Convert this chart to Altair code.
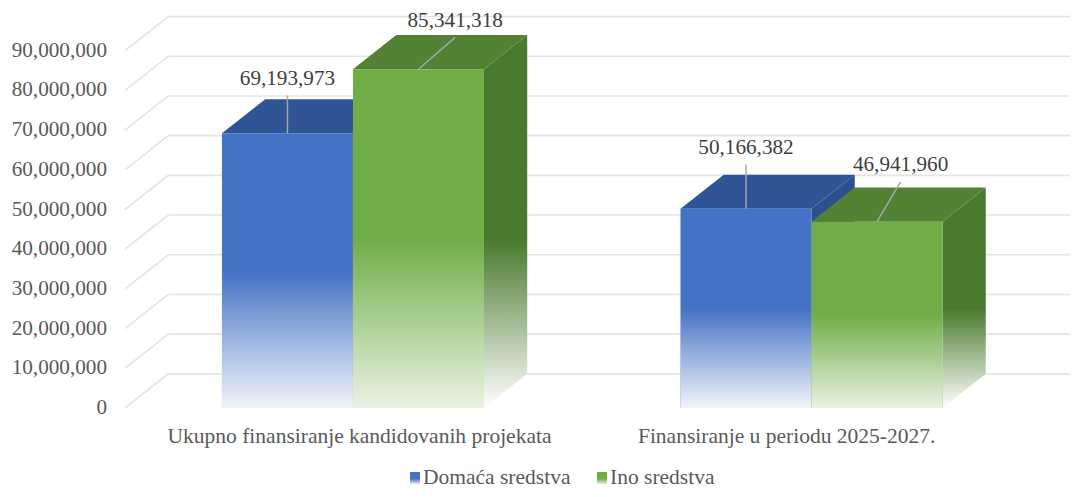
import altair as alt
import pandas as pd

# ---------------- data ----------------
categories = ["Ukupno finansiranje kandidovanih projekata", "Finansiranje u periodu 2025-2027."]
series = ["Domaća sredstva", "Ino sredstva"]
domace = [69193973, 50166382]
ino = [85341318, 46941960]
y_ticks = [0, 10000000, 20000000, 30000000, 40000000, 50000000, 60000000, 70000000, 80000000, 90000000]

# ---------------- layout / style ----------------
W, H = 945, 397
GROUP = 3.5          # slot units per category
BAR = 1.0            # slot units per bar
DX = 0.33            # 3D depth (horizontal, slot units)
DY = 8.6e6           # 3D depth (vertical, value units)
XMIN, XMAX = -0.74, 6.473
YMAX = 100e6
LABEL_DX = [[0.0, 0.28], [0.0, 0.18]]           # value-label shift (slot units)
LABEL_DY = [[13.7e6, 12.2e6], [15.4e6, 14.2e6]]  # value-label lift (value units)
LEADER_GAP = 4.2e6
CAT_LABEL_SHIFT = [0.05, -0.19]
LEGEND_X = [290, 477]   # px of legend swatches
LEGEND_Y = 467
FONT = "Liberation Serif, Times New Roman, serif"
FS = 21.2

front_colors = ["#4472C4", "#70AD47"]
top_colors = ["#2F5597", "#548235"]
side_colors = ["#2C4F8F", "#4A7A2E"]
fade_alpha = [0.93, 0.85]

xs = alt.Scale(domain=[XMIN, XMAX], nice=False, zero=False)
ys = alt.Scale(domain=[0, YMAX], nice=False, zero=False)

# ---------------- derived tables ----------------
values = [domace, ino]
bar_rows, top_rows, side_rows, lab_rows = [], [], [], []
for i, cat in enumerate(categories):
    for j, s in enumerate(series):
        v = values[j][i]
        xl = i * GROUP + j * BAR
        xr = xl + BAR
        bid = f"{i}-{j}"
        bar_rows.append(dict(id=bid, j=j, series=s, val=v, y0=0, xl=xl, xr=xr))
        top_rows += [dict(id=bid, j=j, ty=v, tx1=xl, tx2=xr),
                     dict(id=bid, j=j, ty=v + DY, tx1=xl + DX, tx2=xr + DX)]
        side_rows += [dict(id=bid, j=j, sx=xr, sy1=0, sy2=v),
                      dict(id=bid, j=j, sx=xr + DX, sy1=DY, sy2=v + DY)]
        cx = (xl + xr) / 2
        lu = cx + LABEL_DX[i][j]
        lv = v + LABEL_DY[i][j]
        lab_rows.append(dict(id=bid, val=v, lu=lu, lv=lv, lv2=lv - LEADER_GAP, cx=cx))

bars = pd.DataFrame(bar_rows)
tops = pd.DataFrame(top_rows)
sides = pd.DataFrame(side_rows)
labs = pd.DataFrame(lab_rows)

grid = pd.DataFrame(dict(v=y_ticks))
grid["vb"] = grid["v"] + DY
grid["xa"] = XMIN
grid["xb"] = XMIN + DX
grid["xc"] = XMAX

cats = pd.DataFrame(dict(cat=categories,
                         cu=[i * GROUP + BAR + CAT_LABEL_SHIFT[i] for i in range(len(categories))]))

# ---------------- layers ----------------
grid_color = "#E4E4E4"
slant = alt.Chart(grid).mark_rule(color=grid_color, strokeWidth=1.6).encode(
    x=alt.X("xa:Q", scale=xs, axis=None), x2="xb:Q",
    y=alt.Y("v:Q", scale=ys, axis=None), y2="vb:Q")
back = alt.Chart(grid).mark_rule(color=grid_color, strokeWidth=1.6).encode(
    x=alt.X("xb:Q", scale=xs, axis=None), x2="xc:Q",
    y=alt.Y("vb:Q", scale=ys, axis=None))
ylabels = alt.Chart(grid).mark_text(font=FONT, fontSize=FS, color="#595959", align="right",
                                    baseline="middle", dx=-18).encode(
    x=alt.X("xa:Q", scale=xs, axis=None),
    y=alt.Y("v:Q", scale=ys, axis=None),
    text=alt.Text("v:Q", format=","))

layers = [slant, back, ylabels]

for j, s in enumerate(series):
    side_grad = alt.Gradient(gradient="linear", x1=0, x2=0, y1=0, y2=1, stops=[
        alt.GradientStop(color=side_colors[j], offset=0),
        alt.GradientStop(color=side_colors[j], offset=0.55),
        alt.GradientStop(color="#FFFFFF", offset=1)])
    fade = alt.Gradient(gradient="linear", x1=0, x2=0, y1=0, y2=1, stops=[
        alt.GradientStop(color="rgba(255,255,255,0)", offset=0),
        alt.GradientStop(color="rgba(255,255,255,0)", offset=0.5),
        alt.GradientStop(color=f"rgba(255,255,255,{fade_alpha[j]})", offset=1)])

    side = alt.Chart(sides[sides.j == j]).mark_area(orient="vertical", fill=side_grad).encode(
        x=alt.X("sx:Q", scale=xs, axis=None),
        y=alt.Y("sy1:Q", scale=ys, axis=None, stack=None), y2="sy2:Q",
        detail="id:N")
    top = alt.Chart(tops[tops.j == j]).mark_area(orient="horizontal", fill=top_colors[j]).encode(
        y=alt.Y("ty:Q", scale=ys, axis=None),
        x=alt.X("tx1:Q", scale=xs, axis=None, stack=None), x2="tx2:Q",
        detail="id:N")
    front = alt.Chart(bars[bars.j == j]).mark_bar().encode(
        x=alt.X("xl:Q", scale=xs, axis=None), x2="xr:Q",
        y=alt.Y("val:Q", scale=ys, axis=None), y2="y0:Q",
        color=alt.Color("series:N", scale=alt.Scale(domain=series, range=front_colors),
                        legend=None))
    overlay = alt.Chart(bars[bars.j == j]).mark_bar(fill=fade).encode(
        x=alt.X("xl:Q", scale=xs, axis=None), x2="xr:Q",
        y=alt.Y("val:Q", scale=ys, axis=None), y2="y0:Q")
    layers += [side, top, front, overlay]

leaders = alt.Chart(labs).mark_rule(color="#A6A6A6", strokeWidth=1.5).encode(
    x=alt.X("lu:Q", scale=xs, axis=None), x2="cx:Q",
    y=alt.Y("lv2:Q", scale=ys, axis=None), y2="val:Q")
texts = alt.Chart(labs).mark_text(font=FONT, fontSize=FS, color="#404040", baseline="middle").encode(
    x=alt.X("lu:Q", scale=xs, axis=None),
    y=alt.Y("lv:Q", scale=ys, axis=None),
    text=alt.Text("val:Q", format=","))
cat_text = alt.Chart(cats).mark_text(font=FONT, fontSize=21.5, color="#595959", baseline="middle").encode(
    x=alt.X("cu:Q", scale=xs, axis=None),
    y=alt.value(H + 29),
    text="cat:N")

layers += [leaders, texts, cat_text]

# legend built from the series list
leg_df = pd.DataFrame(dict(series=series))
for j, s in enumerate(series):
    sw_grad = alt.Gradient(gradient="linear", x1=0, x2=0, y1=0, y2=1, stops=[
        alt.GradientStop(color=front_colors[j], offset=0),
        alt.GradientStop(color=front_colors[j], offset=0.55),
        alt.GradientStop(color="#E6ECF7" if j == 0 else "#E4F0DC", offset=1)])
    d = leg_df[leg_df.series == s]
    sw = alt.Chart(d).mark_bar(fill=sw_grad).encode(
        x=alt.value(LEGEND_X[j] - 5), x2=alt.value(LEGEND_X[j] + 5),
        y=alt.value(LEGEND_Y - 6), y2=alt.value(LEGEND_Y + 6))
    tx = alt.Chart(d).mark_text(font=FONT, fontSize=21.5, color="#595959", align="left",
                                baseline="middle").encode(
        x=alt.value(LEGEND_X[j] + 8), y=alt.value(LEGEND_Y), text="series:N")
    layers += [sw, tx]

chart = alt.layer(*layers).properties(
    width=W, height=H,
    autosize=alt.AutoSizeParams(type="none"),
    padding={"left": 117, "top": 3, "right": 0, "bottom": 81},
    background="white",
).configure_view(stroke=None)

chart.save("out.html", embed_options={"renderer": "svg", "actions": False})
